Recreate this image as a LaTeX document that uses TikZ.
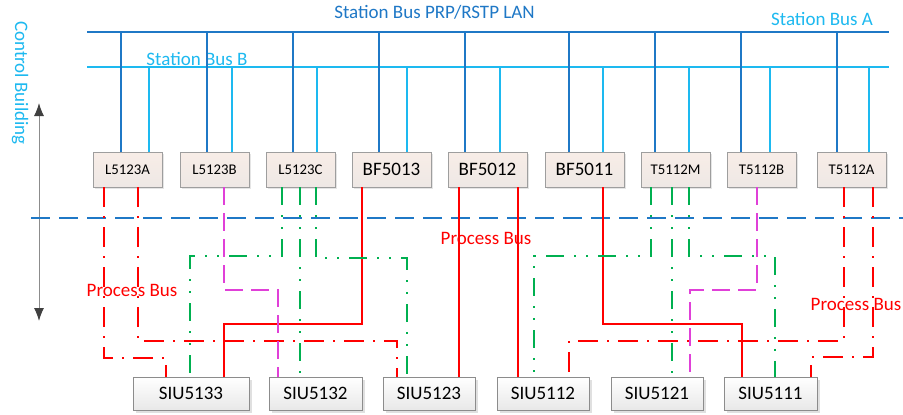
\documentclass[tikz,border=0pt]{standalone}
\usepackage{fontspec}
\setmainfont{Carlito}
\usetikzlibrary{arrows.meta,shadows}
\definecolor{dkblue}{HTML}{1F78C6}
\definecolor{ltblue}{HTML}{1DB9F0}
\definecolor{pbred}{HTML}{FF0000}
\definecolor{pbgreen}{HTML}{00B050}
\definecolor{pbmag}{HTML}{E040D8}
\definecolor{iedtop}{HTML}{F8EDE7}
\definecolor{iedbot}{HTML}{EEE8E5}
\begin{document}
\begin{tikzpicture}[x=1pt,y=-1pt,
  big/.style={font=\fontsize{19}{22}\selectfont},
  small/.style={font=\fontsize{14.8}{17}\selectfont},
  iedbox/.style={draw=black!38, line width=0.8pt, top color=iedtop, bottom color=iedbot,
    minimum height=35pt, inner sep=0pt, general shadow={fill=black!10, shadow xshift=2pt, shadow yshift=-2pt}},
  siubox/.style={draw=black!45, line width=0.8pt, top color=white, bottom color=black!9,
    minimum height=33pt, inner sep=0pt, big, general shadow={fill=black!12, shadow xshift=3pt, shadow yshift=-3pt}},
  busA/.style={dkblue, line width=2.2pt},
  busB/.style={ltblue, line width=2.2pt},
  rdashdot/.style={pbred, line width=2.2pt, dash pattern=on 20pt off 9pt on 2pt off 9pt},
  rsolid/.style={pbred, line width=2.2pt},
  gdashdd/.style={pbgreen, line width=2.2pt, dash pattern=on 18pt off 10pt on 2pt off 10pt on 2pt off 10pt},
  mdash/.style={pbmag, line width=2.2pt, dash pattern=on 18pt off 8pt},
  lbl/.style={big, anchor=base, inner sep=0pt}
]
\useasboundingbox (0,0) rectangle (903,415);
\fill[white] (0,0) rectangle (903,415);

% texts
\node[lbl, text=dkblue] (tLAN) at (434.5,18.3) {Station Bus PRP/RSTP LAN};
\node[lbl, text=ltblue] (tA) at (822,25) {Station Bus A};
\node[lbl, text=ltblue] (tB) at (197,65.5) {Station Bus B};
\node[big, text=ltblue, rotate=-90, inner sep=0pt] (tCB) at (20,83) {Control Building};

% buses
\coordinate (aL) at (87,32); \coordinate (aR) at (889,32);
\coordinate (bL) at (87,67); \coordinate (bR) at (889,67);
\draw[busA] (aL) -- (aR);
\draw[busB] (bL) -- (bR);

% arrow
\coordinate (arT) at (39,103); \coordinate (arB) at (39,321);
\draw[black!45, line width=1pt, {Latex[length=13pt,width=10pt,color=black!75]}-{Latex[length=13pt,width=10pt,color=black!75]}] (arT) -- (arB);

% dashed separator
\coordinate (sepL) at (31,218); \coordinate (sepR) at (903,218);
\draw[dkblue, line width=2.8pt, dash pattern=on 19pt off 9pt] (sepL) -- (sepR);

% IED boxes
\node[iedbox, small, minimum width=69pt] (LA) at (127.5,169.5) {L5123A};
\node[iedbox, small, minimum width=69pt] (LB) at (214.5,169.5) {L5123B};
\node[iedbox, small, minimum width=69pt] (LC) at (300.5,169.5) {L5123C};
\node[iedbox, big, minimum width=79pt] (F3) at (391.5,169.5) {BF5013};
\node[iedbox, big, minimum width=79pt] (F2) at (487.5,169.5) {BF5012};
\node[iedbox, big, minimum width=79pt] (F1) at (584.5,169.5) {BF5011};
\node[iedbox, small, minimum width=69pt] (TM) at (675.5,169.5) {T5112M};
\node[iedbox, small, minimum width=69pt] (TB) at (761.5,169.5) {T5112B};
\node[iedbox, small, minimum width=69pt] (TA) at (851.5,169.5) {T5112A};

% station bus drops
\foreach \n/\xa/\xb in {LA/121/149, LB/207/232, LC/293/317, F3/379/407, F2/465/500, F1/569/603, TM/655/689, TB/741/770, TA/837/869}{
  \draw[busA] (aL -| \xa,0) -- (\n.north -| \xa,0);
  \draw[busB] (bL -| \xb,0) -- (\n.north -| \xb,0);
}

% SIU boxes
\node[siubox, minimum width=116pt] (S33) at (191,393.5) {SIU5133};
\node[siubox, minimum width=93pt] (S32) at (315.5,393.5) {SIU5132};
\node[siubox, minimum width=92pt] (S23) at (429,393.5) {SIU5123};
\node[siubox, minimum width=92pt] (S12) at (543,393.5) {SIU5112};
\node[siubox, minimum width=92pt] (S21) at (657,393.5) {SIU5121};
\node[siubox, minimum width=93pt] (S11) at (770.5,393.5) {SIU5111};

% process bus connections
\draw[rdashdot] (LA.south -| 104,0) |- (166,358) -- (S33.north -| 166,0);
\draw[rdashdot] (LA.south -| 138,0) |- (397,341) -- (S23.north -| 397,0);
\draw[rdashdot] (TA.south -| 844,0) |- (569,341) -- (S12.north -| 569,0);
\draw[rdashdot] (TA.south -| 873,0) |- (811,357) -- (S11.north -| 811,0);

\draw[rsolid] (F3.south -| 362,0) |- (224,324) -- (S33.north -| 224,0);
\draw[rsolid] (F2.south -| 459,0) -- (S23.north -| 459,0);
\draw[rsolid] (F2.south -| 518,0) -- (S12.north -| 518,0);
\draw[rsolid] (F1.south -| 603,0) |- (742,324) -- (S11.north -| 742,0);

\draw[gdashdd] (LC.south -| 282,0) |- (190,256) -- (S33.north -| 190,0);
\draw[gdashdd] (LC.south -| 300,0) -- (S32.north -| 300,0);
\draw[gdashdd] (LC.south -| 316,0) |- (407,258) -- (S23.north -| 407,0);
\draw[gdashdd] (TM.south -| 651,0) |- (534,256) -- (S12.north -| 534,0);
\draw[gdashdd] (TM.south -| 672,0) -- (S21.north -| 672,0);
\draw[gdashdd] (TM.south -| 689,0) |- (775,256) -- (S11.north -| 775,0);

\draw[mdash] (LB.south -| 224,0) |- (278,290) -- (S32.north -| 278,0);
\draw[mdash] (TB.south -| 757,0) |- (690,290) -- (S21.north -| 690,0);

% process bus labels
\node[lbl, text=pbred] (pb1) at (486,244) {Process Bus};
\node[lbl, text=pbred] (pb2) at (132,296) {Process Bus};
\node[lbl, text=pbred] (pb3) at (856,310) {Process Bus};
\end{tikzpicture}
\end{document}
